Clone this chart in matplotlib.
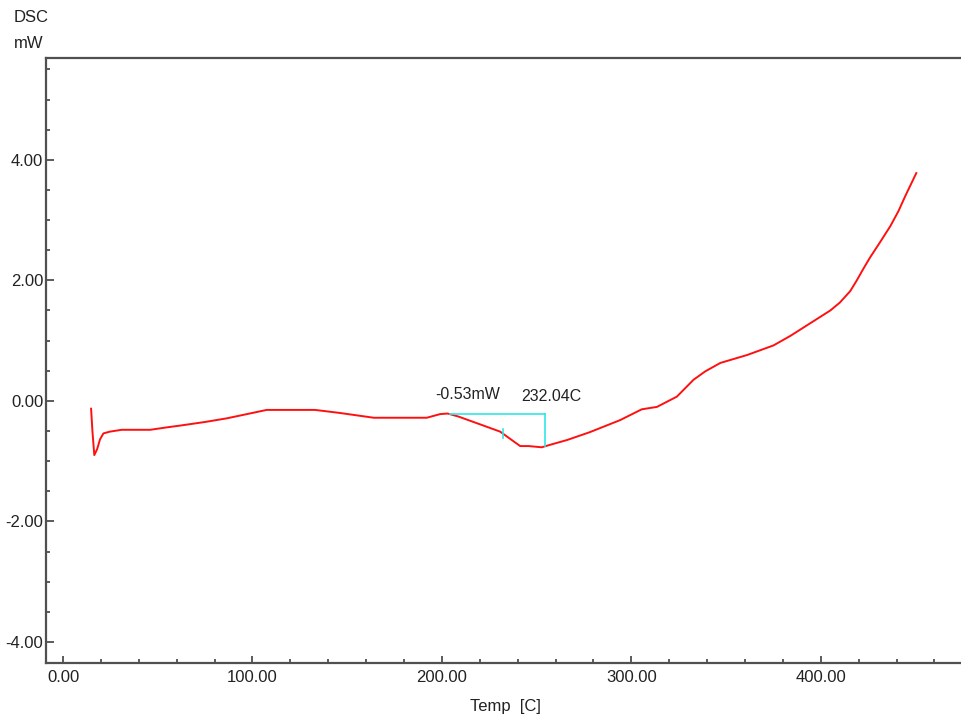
import numpy as np
import matplotlib
matplotlib.use("Agg")
import matplotlib.pyplot as plt
from matplotlib.ticker import MultipleLocator, FormatStrFormatter

plt.rcParams['font.family'] = ['Liberation Sans', 'DejaVu Sans']

# DSC trace read from the run: temperature [C] vs heat flow [mW]
temp = [14.8, 15.5, 16.5, 18.0, 19.5, 21.3, 24.8, 31, 46, 54.7, 61.8, 75, 86.4,
        97, 107.5, 120, 133, 146, 155, 164, 180, 192, 199, 203, 208.7, 218.4,
        230.7, 241.3, 245.7, 252.7, 257, 266, 278, 294, 305.5, 313.5, 324,
        332.8, 339, 347, 361, 368, 375, 384, 394, 400, 405, 410, 415.5, 419,
        422.6, 426, 431, 436.7, 441, 444.6, 450.4]
dsc = [-0.13, -0.50, -0.90, -0.80, -0.64, -0.54, -0.51, -0.48, -0.48, -0.44,
       -0.41, -0.35, -0.29, -0.22, -0.15, -0.15, -0.15, -0.20, -0.24, -0.28,
       -0.28, -0.28, -0.22, -0.21, -0.26, -0.37, -0.51, -0.75, -0.75, -0.77,
       -0.73, -0.65, -0.52, -0.32, -0.14, -0.10, 0.07, 0.35, 0.49, 0.63, 0.76,
       0.84, 0.92, 1.08, 1.28, 1.40, 1.50, 1.63, 1.82, 2.00, 2.20, 2.38, 2.62,
       2.90, 3.15, 3.40, 3.78]

# peak analysis
base_start = 204.3
base_end = 254.2
base_level = -0.22
onset = 232.04
peak_height = -0.53

fig = plt.figure(figsize=(9.61, 7.26), dpi=100)
ax = fig.add_axes([46 / 961, 1 - 663 / 726, 1 - 46 / 961, (663 - 58) / 726])

ax.plot(temp, dsc, color='#ff1010', lw=1.4)

# baseline + peak height marker
ax.plot([base_start, base_end], [base_level, base_level], color='#30e6e6', lw=1.2)
ax.plot([base_end, base_end], [base_level, base_level + peak_height],
        color='#30e6e6', lw=1.2)
onset_y = np.interp(onset, temp, dsc)
ax.plot([onset, onset], [onset_y + 0.07, onset_y - 0.07], color='#30e6e6', lw=1.2)

ax.text(196.4, 0.10, '%.2fmW' % peak_height, fontsize=11.5, color='#222222',
        va='center', ha='left')
ax.text(241.8, 0.07, '%.2fC' % onset, fontsize=11.5, color='#222222',
        va='center', ha='left')

ax.set_xlim(-9, 474)
ax.set_ylim(-4.35, 5.69)

ax.xaxis.set_major_locator(MultipleLocator(100))
ax.xaxis.set_minor_locator(MultipleLocator(20))
ax.yaxis.set_major_locator(MultipleLocator(2))
ax.yaxis.set_minor_locator(MultipleLocator(0.5))
ax.xaxis.set_major_formatter(FormatStrFormatter('%.2f'))
ax.yaxis.set_major_formatter(FormatStrFormatter('%.2f'))

ax.tick_params(axis='both', which='both', direction='in', colors='#404040',
               labelcolor='#222222', labelsize=12)
ax.tick_params(axis='y', which='major', length=6, width=1.2, pad=2)
ax.tick_params(axis='y', which='minor', length=3, width=1.2)
ax.tick_params(axis='x', which='major', length=5, width=1.2, pad=5)
ax.tick_params(axis='x', which='minor', length=3, width=1.2)
ax.tick_params(top=False, right=False, which='both')

for side in ['left', 'bottom', 'top']:
    ax.spines[side].set_color('#505050')
    ax.spines[side].set_linewidth(1.6)
ax.spines['right'].set_visible(False)

fig.text(14 / 961, 1 - 18 / 726, 'DSC', fontsize=12, color='#222222',
         ha='left', va='center')
fig.text(14 / 961, 1 - 44 / 726, 'mW', fontsize=12, color='#222222',
         ha='left', va='center')
fig.text(505 / 961, 1 - 706 / 726, 'Temp  [C]', fontsize=12, color='#222222',
         ha='center', va='center')

fig.savefig('out.png', dpi=100)
